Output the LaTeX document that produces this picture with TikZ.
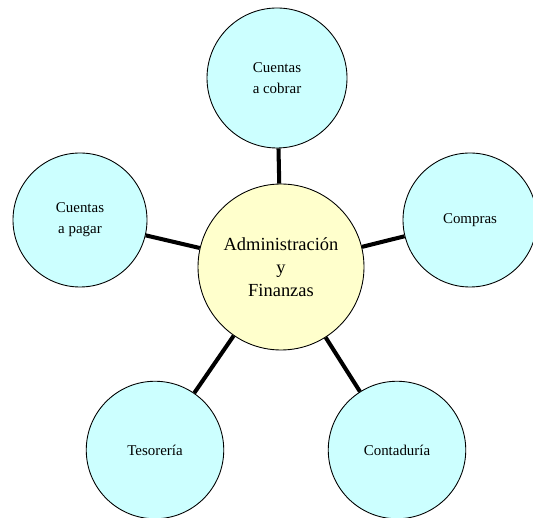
\documentclass[tikz,border=0pt]{standalone}
\usepackage{fontspec}
\setmainfont{Liberation Serif}
\definecolor{AFCyan}{HTML}{CCFFFF}
\definecolor{AFYellow}{HTML}{FFFFCC}

\begin{document}
\begin{tikzpicture}[x=1cm,y=1cm,
  area/.style={circle,draw=black,line width=0.5pt,fill=AFCyan,minimum size=2.75cm,inner sep=0pt,align=center,font=\fontsize{8.5}{12}\selectfont},
  hub/.style={circle,draw=black,line width=0.5pt,fill=AFYellow,minimum size=3.32cm,inner sep=0pt,align=center,font=\fontsize{10.5}{13}\selectfont},
  link/.style={line width=2.3pt}]
\path[use as bounding box] (0,0) rectangle (10.66,10.34);
\node[hub] (af) at (5.62,5.00) {Administración\\y\\Finanzas};
\node[area,minimum size=2.8cm] (cobrar) at (5.54,8.78) {Cuentas\\a cobrar};
\node[area,minimum size=2.68cm] (pagar) at (1.60,5.94) {Cuentas\\a pagar};
\node[area,minimum size=2.68cm] (compras) at (9.40,5.94) {Compras};
\node[area] (tesoreria) at (3.10,1.34) {Tesorería};
\node[area] (contaduria) at (7.94,1.34) {Contaduría};
\draw[link] (af) -- (cobrar);
\draw[link] (af) -- (pagar);
\draw[link] (af) -- (compras);
\draw[link] (af) -- (tesoreria);
\draw[link] (af) -- (contaduria);
\end{tikzpicture}
\end{document}
